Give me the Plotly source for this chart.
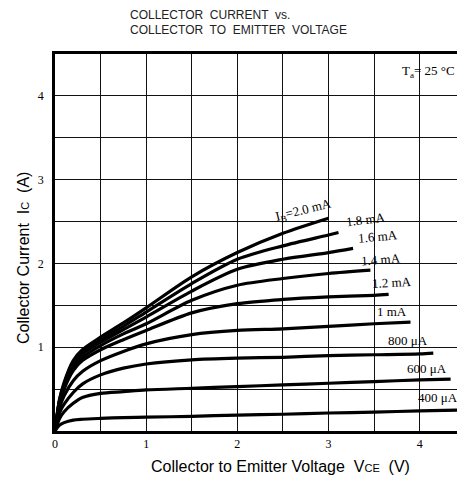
import plotly.graph_objects as go

# ---------------- data ----------------
ib_labels = ["I<sub>B</sub>=2.0 mA", "1.8 mA", "1.6 mA", "1.4 mA", "1.2 mA",
             "1 mA", "800 μA", "600 μA", "400 μA"]

v_2_0 = [0, 0.05, 0.1, 0.2, 0.3, 0.5, 0.75, 1.0, 1.5, 2.0, 2.5, 3.0]
i_2_0 = [0, 0.38, 0.58, 0.84, 0.97, 1.12, 1.29, 1.47, 1.84, 2.13, 2.36, 2.54]

v_1_8 = [0, 0.05, 0.1, 0.2, 0.3, 0.5, 0.75, 1.0, 1.5, 2.0, 2.5, 3.0, 3.11]
i_1_8 = [0, 0.37, 0.56, 0.82, 0.95, 1.09, 1.25, 1.42, 1.76, 2.05, 2.21, 2.34, 2.37]

v_1_6 = [0, 0.05, 0.1, 0.2, 0.3, 0.5, 0.75, 1.0, 1.5, 2.0, 2.5, 3.0, 3.27]
i_1_6 = [0, 0.36, 0.55, 0.79, 0.92, 1.06, 1.21, 1.36, 1.67, 1.93, 2.05, 2.13, 2.18]

v_1_4 = [0, 0.05, 0.1, 0.2, 0.3, 0.5, 0.75, 1.0, 1.5, 2.0, 2.5, 3.0, 3.46]
i_1_4 = [0, 0.35, 0.53, 0.76, 0.88, 1.02, 1.16, 1.28, 1.56, 1.74, 1.82, 1.88, 1.92]

v_1_2 = [0, 0.05, 0.1, 0.2, 0.3, 0.5, 0.75, 1.0, 1.5, 2.0, 2.5, 3.0, 3.5, 3.66]
i_1_2 = [0, 0.33, 0.50, 0.72, 0.84, 0.97, 1.09, 1.20, 1.41, 1.52, 1.57, 1.60, 1.62, 1.63]

v_1_0 = [0, 0.05, 0.1, 0.2, 0.3, 0.5, 0.75, 1.0, 1.5, 2.0, 2.5, 3.0, 3.5, 3.9]
i_1_0 = [0, 0.28, 0.42, 0.60, 0.71, 0.84, 0.95, 1.04, 1.15, 1.20, 1.22, 1.25, 1.28, 1.30]

v_0_8 = [0, 0.05, 0.1, 0.2, 0.3, 0.5, 0.75, 1.0, 1.5, 2.0, 2.5, 3.0, 3.5, 4.0, 4.15]
i_0_8 = [0, 0.22, 0.32, 0.46, 0.56, 0.67, 0.75, 0.80, 0.85, 0.87, 0.88, 0.90, 0.91, 0.92, 0.93]

v_0_6 = [0, 0.05, 0.1, 0.2, 0.3, 0.5, 0.75, 1.0, 1.5, 2.0, 2.5, 3.0, 3.5, 4.0, 4.34]
i_0_6 = [0, 0.15, 0.23, 0.33, 0.40, 0.45, 0.47, 0.49, 0.51, 0.53, 0.55, 0.57, 0.59, 0.61, 0.62]

v_0_4 = [0, 0.05, 0.1, 0.2, 0.3, 0.5, 0.75, 1.0, 1.5, 2.0, 2.5, 3.0, 3.5, 4.0, 4.5]
i_0_4 = [0, 0.07, 0.10, 0.13, 0.14, 0.15, 0.16, 0.165, 0.175, 0.19, 0.20, 0.215, 0.225, 0.24, 0.25]

curves_v = [v_2_0, v_1_8, v_1_6, v_1_4, v_1_2, v_1_0, v_0_8, v_0_6, v_0_4]
curves_i = [i_2_0, i_1_8, i_1_6, i_1_4, i_1_2, i_1_0, i_0_8, i_0_6, i_0_4]

x_ticks = [0, 0.5, 1, 1.5, 2, 2.5, 3, 3.5, 4, 4.5]
x_ticktext = ["0", " ", "1", " ", "2", " ", "3", " ", "4", " "]
y_ticks = [0, 0.5, 1, 1.5, 2, 2.5, 3, 3.5, 4, 4.5]
y_ticktext = [" ", " ", "1", " ", "2", " ", "3", " ", "4", " "]

title_line1 = "COLLECTOR  CURRENT  vs."
title_line2 = "COLLECTOR  TO  EMITTER  VOLTAGE"
x_title = "Collector to Emitter Voltage  V<span style='font-size:11px'>CE</span>  (V)"
y_title = "Collector Current  I<span style='font-size:11px'>C</span>  (A)"
temp_label = "T<sub>a</sub>= 25 °C"

# label offsets relative to curve end (data units) and rotation
label_dx = [-0.27, 0.30, 0.27, 0.12, 0.04, -0.20, -0.28, -0.26, -0.30]
label_dy = [0.09, 0.15, 0.14, 0.13, 0.14, 0.13, 0.15, 0.13, 0.15]
label_rot = [-14, -7, -5, -4, -3, 0, 0, 0, 0]

# ---------------- figure ----------------
fig = go.Figure()

for v, i in zip(curves_v, curves_i):
    fig.add_trace(go.Scatter(x=v, y=i, mode="lines",
                             line=dict(color="black", width=3.2, shape="spline", smoothing=0.8),
                             hoverinfo="skip", showlegend=False, cliponaxis=True))

serif = "Liberation Serif, Times New Roman, serif"
sans = "Liberation Sans, Arial, sans-serif"

for lab, v, i, dx, dy, rot in zip(ib_labels, curves_v, curves_i, label_dx, label_dy, label_rot):
    fig.add_annotation(x=v[-1] + dx, y=i[-1] + dy, text=lab, showarrow=False,
                       textangle=rot, font=dict(family=serif, size=13, color="black"),
                       xanchor="center", yanchor="middle")

# blank box for the temperature label
fig.add_shape(type="rect", xref="x", yref="y", x0=4.01, x1=4.6, y0=4.02, y1=4.49,
              fillcolor="white", line=dict(width=0), layer="between")
fig.add_annotation(x=4.41, y=4.29, xanchor="right", text=temp_label, showarrow=False,
                   font=dict(family=serif, size=13, color="black"))

# title (two lines)
title_font = dict(family=sans, size=12, color="#222")
fig.add_annotation(xref="paper", yref="paper", x=0.1816, y=1.1034, xanchor="left", yanchor="middle",
                   text=title_line1, showarrow=False, font=title_font)
fig.add_annotation(xref="paper", yref="paper", x=0.1816, y=1.0637, xanchor="left", yanchor="middle",
                   text=title_line2, showarrow=False, font=title_font)

# axis titles
fig.add_annotation(xref="paper", yref="paper", x=0.56, y=-0.095, text=x_title, showarrow=False,
                   xanchor="center", yanchor="middle", font=dict(family=sans, size=16, color="black"))
fig.add_annotation(xref="paper", yref="paper", x=-0.077, y=0.459, text=y_title, showarrow=False,
                   textangle=-90, xanchor="center", yanchor="middle",
                   font=dict(family=sans, size=16, color="black"))

fig.update_layout(
    width=449, height=469,
    margin=dict(l=47, r=0, t=46, b=46),
    paper_bgcolor="white", plot_bgcolor="white",
    xaxis=dict(range=[0, 4.41], tickmode="array", tickvals=x_ticks, ticktext=x_ticktext,
               showgrid=True, gridcolor="#111", gridwidth=1.2, zeroline=False,
               showline=True, linecolor="black", linewidth=2.5, mirror=True,
               ticks="", tickfont=dict(family=serif, size=12, color="black")),
    yaxis=dict(range=[0, 4.5], tickmode="array", tickvals=y_ticks, ticktext=y_ticktext,
               showgrid=True, gridcolor="#111", gridwidth=1.2, zeroline=False,
               showline=True, linecolor="black", linewidth=2.5,
               ticks="", ticklabelstandoff=6, tickfont=dict(family=serif, size=12, color="black")),
)

fig.write_html("out.html")
